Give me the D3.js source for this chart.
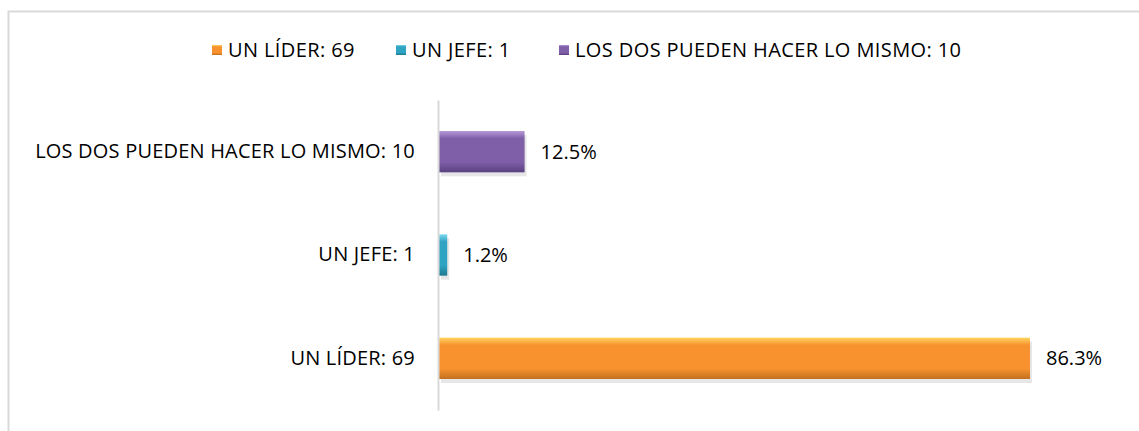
<!DOCTYPE html>
<html>
<head>
<meta charset="utf-8">
<script src="https://cdn.jsdelivr.net/npm/d3@7"></script>
<style>
  body { margin: 0; background: #fff; }
  svg { display: block; font-family: "Open Sans", sans-serif; }
</style>
</head>
<body>
<svg id="chart" width="1139" height="431"></svg>
<script>
// datos del gráfico
const categories = ["UN LÍDER: 69", "UN JEFE: 1", "LOS DOS PUEDEN HACER LO MISMO: 10"];
const percents = [86.3, 1.2, 12.5];
const colors = ["#F7922F", "#2FA3C2", "#7E5FA8"];
const lightColors = ["#FFD45E", "#7FD8EE", "#B79AD8"];
const darkColors = ["#C2701F", "#1C7890", "#5A4080"];

const svg = d3.select("#chart");
const attr_area = { left: 439, top: 100, bottom: 410, right: 1100 };

// marco
svg.append("rect")
    .attr("x", 8.5).attr("y", 11.5)
    .attr("width", 1200).attr("height", 500)
    .attr("fill", "none")
    .attr("stroke", "#d9d9d9")
    .attr("stroke-width", 2);

const scaleY = d3.scaleBand()
    .domain(categories.slice().reverse())
    .range([attr_area.top, attr_area.bottom])
    .paddingInner(0.6)
    .paddingOuter(0.3);

const scaleX = d3.scaleLinear()
    .domain([0, 86.3])
    .range([attr_area.left, 1030]);

const defs = svg.append("defs");
categories.forEach((c, i) => {
    const g = defs.append("linearGradient")
        .attr("id", "grad" + i)
        .attr("x1", 0).attr("y1", 0).attr("x2", 0).attr("y2", 1);
    g.append("stop").attr("offset", "0%").attr("stop-color", lightColors[i]);
    g.append("stop").attr("offset", "18%").attr("stop-color", colors[i]);
    g.append("stop").attr("offset", "75%").attr("stop-color", colors[i]);
    g.append("stop").attr("offset", "100%").attr("stop-color", darkColors[i]);
});

const data = categories.map((c, i) => ({ label: c, value: percents[i], idx: i }));

// sombra
svg.selectAll(".shadow")
    .data(data)
    .enter()
    .append("rect")
    .attr("x", scaleX(0) + 2)
    .attr("y", d => scaleY(d.label) + 4)
    .attr("width", d => scaleX(d.value) - scaleX(0))
    .attr("height", scaleY.bandwidth())
    .attr("fill", "#e6e6e6");

svg.selectAll(".bar")
    .data(data)
    .enter()
    .append("rect")
    .attr("class", "bar")
    .attr("x", scaleX(0))
    .attr("y", d => scaleY(d.label))
    .attr("width", d => scaleX(d.value) - scaleX(0))
    .attr("height", scaleY.bandwidth())
    .attr("fill", d => "url(#grad" + d.idx + ")");

// eje vertical
const axisY = d3.axisLeft(scaleY).tickSize(0).tickPadding(23);
const gy = svg.append("g")
    .attr("transform", `translate(${attr_area.left - 1}, 0)`)
    .call(axisY);
gy.select(".domain").attr("stroke", "#d9d9d9").attr("stroke-width", 2);
gy.selectAll("text")
    .attr("font-size", 20)
    .attr("letter-spacing", 0.2)
    .attr("fill", "#000")
    .attr("font-family", "Open Sans");

// etiquetas de valores
svg.selectAll(".lbl")
    .data(data)
    .enter()
    .append("text")
    .attr("x", d => scaleX(d.value) + 16)
    .attr("y", d => scaleY(d.label) + scaleY.bandwidth() / 2)
    .attr("dy", "0.35em")
    .attr("font-size", 20)
    .text(d => d.value.toFixed(1) + "%");

// leyenda
const legendX = [212, 396, 559];
const legend = svg.selectAll(".leg")
    .data(data)
    .enter()
    .append("g")
    .attr("transform", (d, i) => `translate(${legendX[i]}, 50)`);
legend.append("rect")
    .attr("x", 0).attr("y", -5)
    .attr("width", 10).attr("height", 10)
    .attr("fill", d => "url(#grad" + d.idx + ")");
legend.append("text")
    .attr("x", 16)
    .attr("y", 0)
    .attr("dy", "0.35em")
    .attr("font-size", 20)
    .attr("letter-spacing", 0.4)
    .text(d => d.label);
</script>
</body>
</html>
